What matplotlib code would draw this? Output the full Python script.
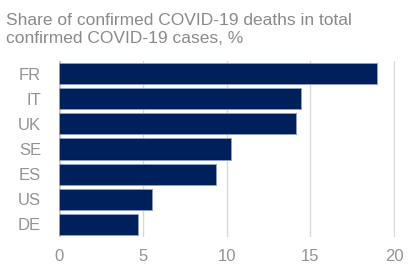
import matplotlib
matplotlib.use("Agg")
import matplotlib.pyplot as plt

countries = ["FR", "IT", "UK", "SE", "ES", "US", "DE"]
values = [19.0, 14.45, 14.15, 10.25, 9.35, 5.55, 4.7]
xticks = [0, 5, 10, 15, 20]
title_lines = ["Share of confirmed COVID-19 deaths in total",
               "confirmed COVID-19 cases, %"]

plt.rcParams['font.family'] = ['Liberation Sans', 'DejaVu Sans']

fig = plt.figure(figsize=(4.17, 2.64), dpi=100)
ax = fig.add_axes([59/417, 1-237/264, (395-59)/417, (237-61)/264])

pos = list(range(len(countries)))[::-1]
ax.barh(pos, values, height=0.84, color='#00205B', edgecolor='#8ea0c8', linewidth=0.6, zorder=3)
ax.set_xlim(0, 20.05)
ax.set_ylim(-0.5, 6.5)
ax.set_xticks(xticks)
ax.set_xticklabels([str(t) for t in xticks])
ax.set_yticks(pos)
ax.set_yticklabels(countries)
ax.tick_params(axis='both', length=0, labelsize=12, colors='#939393')
ax.tick_params(axis='y', pad=13)
ax.tick_params(axis='x', pad=8.5)
for s in ax.spines.values():
    s.set_visible(False)
ax.grid(axis='x', color='#d9d9d9', linewidth=1, zorder=0)
ax.axvline(0, color='#d0d0d0', linewidth=2.5, zorder=2)

for i, line in enumerate(title_lines):
    fig.text(6/417, 1-(25 + 18*i)/264, line, ha='left', va='baseline',
             fontsize=12.5, color='#8a8a8a')

fig.savefig("out.png", dpi=100)
